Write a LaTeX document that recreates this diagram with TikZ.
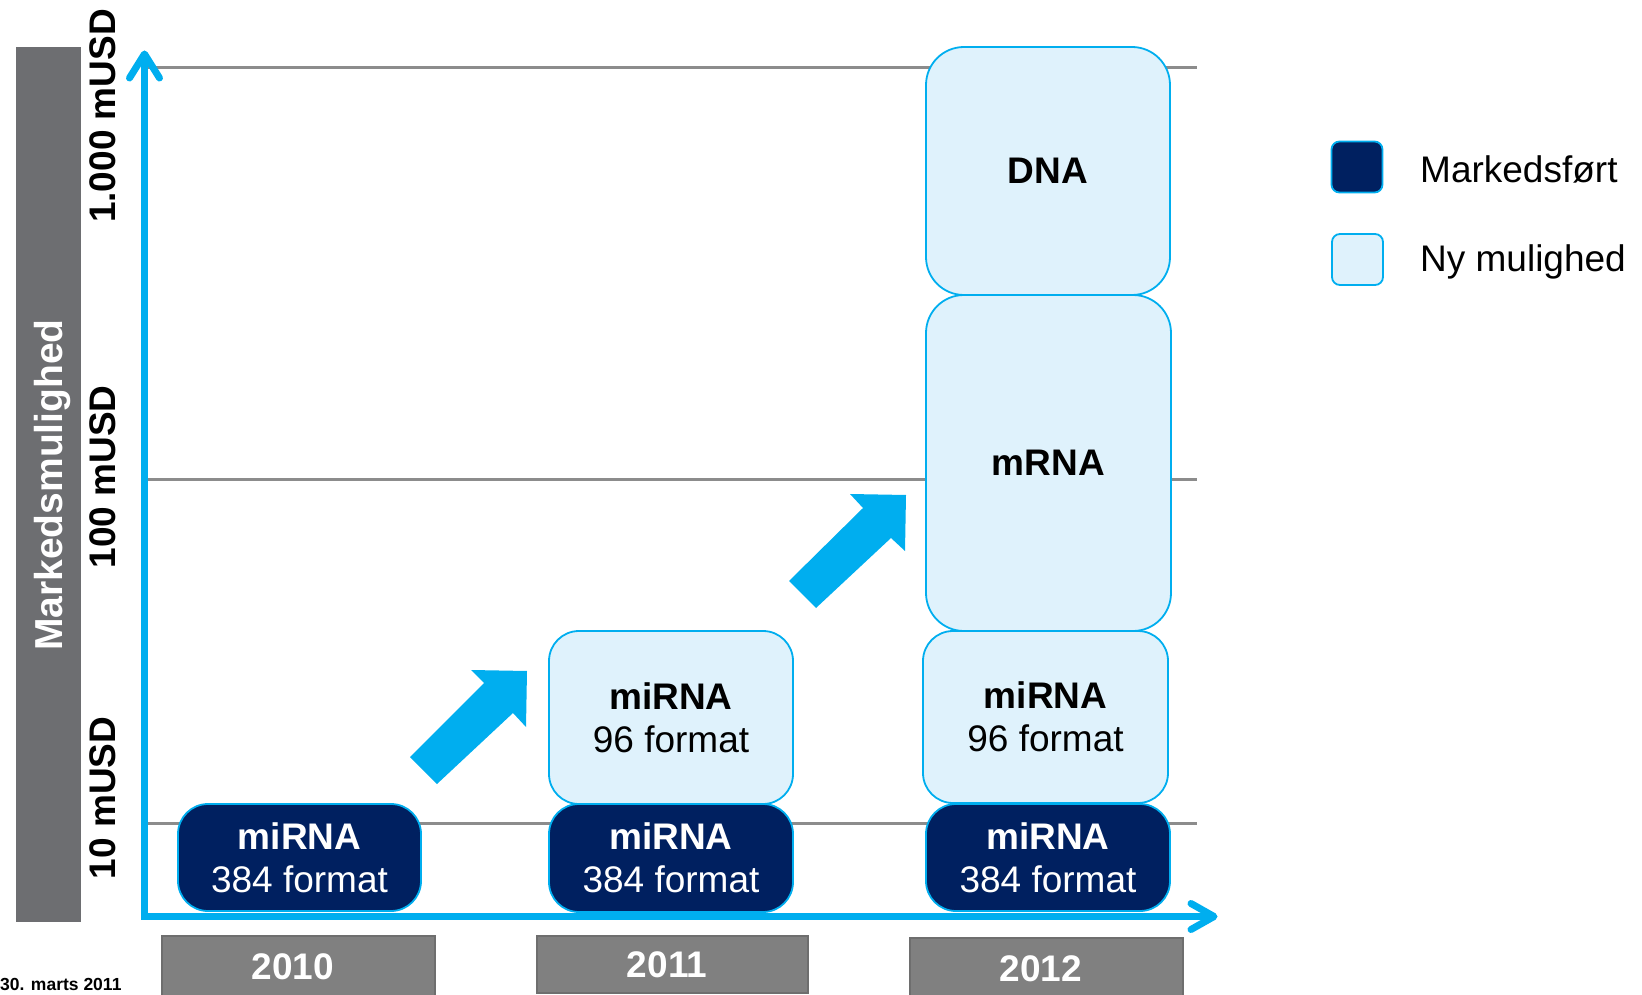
\documentclass[tikz,border=0pt]{standalone}
\usepackage{fontspec}
\setmainfont{Liberation Sans}
\usetikzlibrary{calc}
\definecolor{navy}{RGB}{0,32,96}
\definecolor{cyanline}{RGB}{0,174,239}
\definecolor{lightfill}{RGB}{223,242,252}
\definecolor{barGray}{RGB}{109,110,113}
\definecolor{yearGray}{RGB}{128,128,128}
\definecolor{yearEdge}{RGB}{110,110,110}
\definecolor{gridGray}{RGB}{140,140,140}
\tikzset{
  fs/.style={font=\fontsize{#1}{43}\selectfont},
  boxbase/.style={draw=cyanline, line width=1.8pt, rounded corners=30pt, inner sep=0pt, align=center, fs=37},
  darkbox/.style={boxbase, fill=navy, text=white},
  lightbox/.style={boxbase, fill=lightfill, text=black},
  yearbox/.style={draw=yearEdge, line width=1.5pt, fill=yearGray, text=white, inner sep=0pt, minimum width=272pt, minimum height=62pt, font=\fontsize{37}{40}\selectfont\bfseries},
  gridline/.style={draw=gridGray, line width=3pt},
  axisline/.style={draw=cyanline, line width=7pt, line join=miter},
  chevron/.style={draw=cyanline, line width=7pt, line cap=round, line join=round},
  blockarrow/.style={fill=cyanline, draw=none},
  scalelabel/.style={rotate=90, anchor=base, font=\fontsize{37}{40}\selectfont\bfseries},
  legendbox/.style={draw=cyanline, line width=1.8pt, rounded corners=8pt, inner sep=0pt, minimum width=51pt, minimum height=51pt},
  legendtext/.style={anchor=base west, inner sep=0pt, font=\fontsize{37}{40}\selectfont}
}
\begin{document}
\begin{tikzpicture}[x=1pt, y=-1pt]
\useasboundingbox (0,0) rectangle (1642,995);

% left gray bar
\node[fill=barGray, inner sep=0pt, minimum width=65pt, minimum height=875pt] (bar) at (48.5,484.5) {};
\node[scalelabel, text=white, font=\fontsize{39}{40}\selectfont\bfseries] (mlabel) at (62,485) {Markedsmulighed};

% scale labels
\node[scalelabel] (l1000) at (115,116) {1.000 mUSD};
\node[scalelabel] (l100) at (115,477) {100 mUSD};
\node[scalelabel] (l10) at (115,798) {10 mUSD};

% gridlines
\coordinate (g1a) at (148,68);  \coordinate (g1b) at (1197,68);
\coordinate (g2a) at (148,479); \coordinate (g2b) at (1197,479);
\coordinate (g3a) at (148,823); \coordinate (g3b) at (1197,823);
\draw[gridline] (g1a) -- (g1b);
\draw[gridline] (g2a) -- (g2b);
\draw[gridline] (g3a) -- (g3b);

% axes
\coordinate (ytip) at (144.5,54);
\coordinate (orig) at (144.5,916.5);
\coordinate (xtip) at (1214,916.5);
\draw[axisline] (ytip) -- (orig) -- (xtip);
\draw[chevron] ($(ytip)+(-15,24)$) -- (ytip) -- ($(ytip)+(15,24)$);
\draw[chevron] ($(xtip)+(-23,-13)$) -- (xtip) -- ($(xtip)+(-23,13)$);

% boxes
\node[darkbox, minimum width=243pt, minimum height=107pt] (b10d) at (299.5,857.5) {\textbf{miRNA}\\384 format};
\node[darkbox, minimum width=244pt, minimum height=108pt] (b11d) at (671,858) {\textbf{miRNA}\\384 format};
\node[lightbox, minimum width=244pt, minimum height=173pt] (b11l) at (671,717.5) {\textbf{miRNA}\\96 format};
\node[darkbox, minimum width=244pt, minimum height=107pt] (b12d) at (1048,857.5) {\textbf{miRNA}\\384 format};
\node[lightbox, minimum width=245pt, minimum height=172pt] (b12l) at (1045.5,717) {\textbf{miRNA}\\96 format};
\node[lightbox, rounded corners=38pt, minimum width=245pt, minimum height=336pt] (b12m) at (1048.5,463) {\textbf{mRNA}};
\node[lightbox, rounded corners=38pt, minimum width=244pt, minimum height=248pt] (b12n) at (1048,171) {\textbf{DNA}};

% block arrows
\fill[blockarrow] (410,757) -- (484,683) -- (471,670) -- (527,671) -- (526,727) -- (513,713) -- (437,784) -- cycle;
\fill[blockarrow] (789,581) -- (863,508) -- (850,494) -- (906,495) -- (905,551) -- (891,538) -- (816,608) -- cycle;

% year boxes
\node[yearbox, minimum width=273pt] (y2010) at (298.5,967) {2010\hspace*{11pt}};
\node[yearbox, minimum width=271pt, minimum height=57pt] (y2011) at (672.5,964.5) {2011\hspace*{11pt}};
\node[yearbox, minimum width=273pt] (y2012) at (1046.5,969) {2012\hspace*{11pt}};

% date
\node[anchor=base west, inner sep=0pt, font=\fontsize{17.5}{20}\selectfont\bfseries] (date) at (0,990) {30. marts 2011};

% legend
\node[legendbox, fill=navy] (legd) at (1357,167) {};
\node[legendbox, fill=lightfill] (legl) at (1357.5,259.5) {};
\node[legendtext] (legdt) at (1420,183) {Markedsført};
\node[legendtext] (leglt) at (1420,272) {Ny mulighed};
\end{tikzpicture}
\end{document}
